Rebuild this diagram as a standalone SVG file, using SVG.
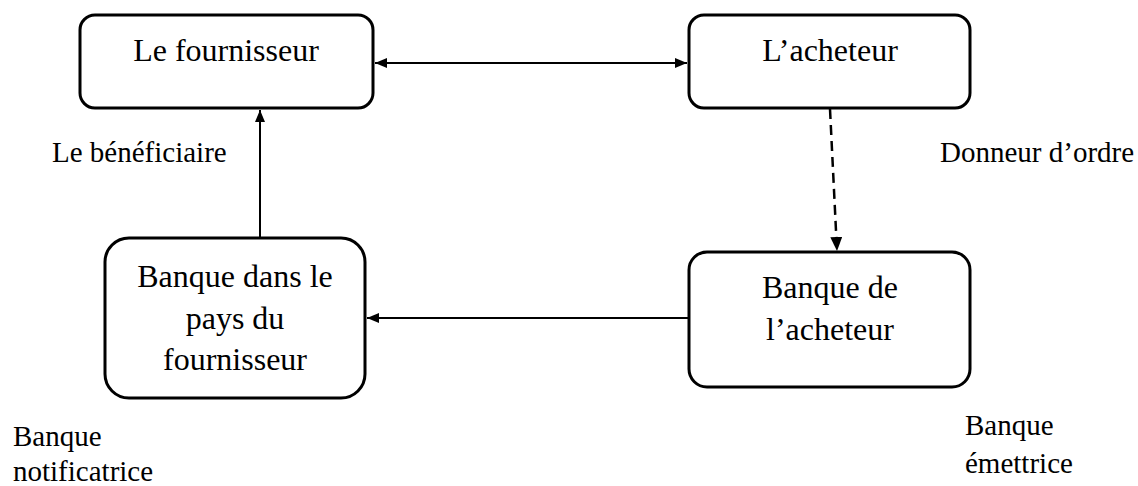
<svg xmlns="http://www.w3.org/2000/svg" width="1138" height="486" viewBox="0 0 1138 486">
<style>
.box{fill:#fff;stroke:#000;stroke-width:3}
.t{font-family:"Liberation Serif","Times New Roman",serif;font-size:32px;fill:#000;text-anchor:middle}
.l{font-family:"Liberation Serif","Times New Roman",serif;font-size:29px;fill:#000}
.c{fill:none;stroke:#000;stroke-width:2}
.d{stroke-width:2.5;stroke-dasharray:10 6}
</style>
<defs>
<marker id="ah" viewBox="0 0 12 10" refX="12" refY="5" markerWidth="12" markerHeight="10" markerUnits="userSpaceOnUse" orient="auto-start-reverse">
<path d="M0,0 L12,5 L0,10 Z" fill="#000"/>
</marker>
<marker id="ah2" viewBox="0 0 14 12" refX="14" refY="6" markerWidth="14" markerHeight="12" markerUnits="userSpaceOnUse" orient="auto">
<path d="M0,0 L14,6 L0,12 Z" fill="#000"/>
</marker>
</defs>
<g id="connectors">
<line class="c" x1="375" y1="63" x2="687" y2="63" marker-start="url(#ah)" marker-end="url(#ah)"/>
<line class="c" x1="260" y1="238" x2="260" y2="110" marker-end="url(#ah)"/>
<line class="c" x1="689" y1="318" x2="367" y2="318" marker-end="url(#ah)"/>
<line class="c d" x1="830" y1="109" x2="837" y2="251" marker-end="url(#ah2)"/>
</g>
<g id="fournisseur">
<rect class="box" x="80" y="15" width="293" height="93" rx="15"/>
<text class="t" x="226" y="61">Le fournisseur</text>
</g>
<g id="acheteur">
<rect class="box" x="689" y="15" width="281" height="93" rx="15"/>
<text class="t" x="830" y="61">L’acheteur</text>
</g>
<g id="banque-fournisseur">
<rect class="box" x="105" y="238" width="260" height="160" rx="24"/>
<text class="t" x="235" y="287">Banque dans le</text>
<text class="t" x="235" y="329">pays du</text>
<text class="t" x="235" y="370">fournisseur</text>
</g>
<g id="banque-acheteur">
<rect class="box" x="689" y="252" width="281" height="135" rx="18"/>
<text class="t" x="830" y="298">Banque de</text>
<text class="t" x="830" y="340">l’acheteur</text>
</g>
<g id="labels">
<text class="l" x="52" y="162">Le bénéficiaire</text>
<text class="l" x="940" y="162">Donneur d’ordre</text>
<text class="l" x="13" y="446">Banque</text>
<text class="l" x="13" y="481">notificatrice</text>
<text class="l" x="965" y="435">Banque</text>
<text class="l" x="965" y="473">émettrice</text>
</g>
</svg>
